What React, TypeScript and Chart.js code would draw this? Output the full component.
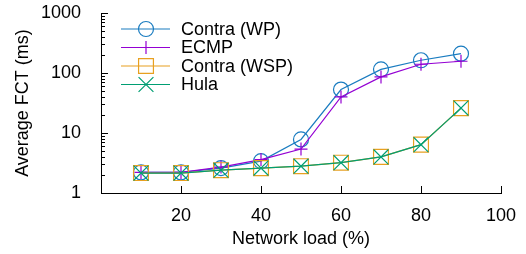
import React, { useEffect, useRef } from 'react';
import { Chart, registerables } from 'chart.js';
import { drawPoint } from 'chart.js/helpers';

Chart.register(...registerables);

const loads = [10, 20, 30, 40, 50, 60, 70, 80, 90];
const contraWP = [2.2, 2.2, 2.6, 3.4, 7.8, 53, 115, 163, 210];
const ecmp = [2.2, 2.2, 2.7, 3.6, 5.4, 40, 86, 140, 157];
const contraWSP = [2.15, 2.15, 2.4, 2.6, 2.8, 3.2, 4.0, 6.4, 26];
const hula = [2.15, 2.15, 2.4, 2.6, 2.8, 3.2, 4.0, 6.4, 26];

const seriesNames = ['Contra (WP)', 'ECMP', 'Contra (WSP)', 'Hula'];
const seriesValues = [contraWP, ecmp, contraWSP, hula];
const seriesColors = ['#1a7cc0', '#9400d3', '#e8a020', '#009e73'];
const seriesStyles = ['circle', 'cross', 'rect', 'crossRot'];
const seriesRadius = [7.5, 6.5, 10.5, 10.5];

const xTicks = [20, 40, 60, 80, 100];
const yTicks = [1, 10, 100, 1000];

const FONT = '"Liberation Sans", Arial, Helvetica, sans-serif';

const axisTicksPlugin = {
  id: 'axisTicks',
  afterDraw(chart: any) {
    const { ctx, chartArea, scales } = chart;
    const x = scales.x;
    const y = scales.y;
    ctx.save();
    ctx.strokeStyle = '#000';
    ctx.lineWidth = 1;
    ctx.beginPath();
    for (const t of xTicks) {
      const px = Math.round(x.getPixelForValue(t)) + 0.5;
      ctx.moveTo(px, chartArea.bottom);
      ctx.lineTo(px, chartArea.bottom - 7);
    }
    const left = chartArea.left;
    for (const d of [1, 10, 100]) {
      for (let m = 1; m <= 9; m++) {
        const py = Math.round(y.getPixelForValue(d * m)) + 0.5;
        const len = m === 1 ? 7 : 4;
        ctx.moveTo(left, py);
        ctx.lineTo(left + len, py);
      }
    }
    const pTop = Math.round(y.getPixelForValue(1000)) + 0.5;
    ctx.moveTo(left, pTop);
    ctx.lineTo(left + 7, pTop);
    ctx.stroke();
    ctx.restore();
  },
};

const legendPlugin = {
  id: 'customLegend',
  afterDraw(chart: any) {
    const { ctx } = chart;
    const rowY = [29, 47.5, 66, 84.5];
    ctx.save();
    seriesNames.forEach((name, i) => {
      const yy = rowY[i];
      ctx.strokeStyle = seriesColors[i];
      ctx.fillStyle = 'rgba(0,0,0,0)';
      ctx.lineWidth = 1.2;
      ctx.beginPath();
      ctx.moveTo(121, yy);
      ctx.lineTo(170, yy);
      ctx.stroke();
      drawPoint(ctx, { pointStyle: seriesStyles[i], radius: seriesRadius[i], borderWidth: 1.2, rotation: 0 } as any, 146, yy);
      ctx.fillStyle = '#000';
      ctx.font = `18px ${FONT}`;
      ctx.textAlign = 'left';
      ctx.textBaseline = 'middle';
      ctx.fillText(name, 181, yy + 1);
    });
    ctx.restore();
  },
};

export default function App() {
  const ref = useRef<HTMLCanvasElement>(null);
  useEffect(() => {
    document.body.style.margin = '0';
    const canvas = ref.current!;
    const chart = new Chart(canvas, {
      type: 'line',
      data: {
        datasets: seriesNames.map((name, i) => ({
          label: name,
          data: loads.map((l, j) => ({ x: l, y: seriesValues[i][j] })),
          borderColor: seriesColors[i],
          backgroundColor: 'rgba(0,0,0,0)',
          pointBorderColor: seriesColors[i],
          pointBackgroundColor: 'rgba(0,0,0,0)',
          pointStyle: seriesStyles[i] as any,
          pointRadius: seriesRadius[i],
          pointBorderWidth: 1.2,
          borderWidth: 1.2,
          tension: 0,
          fill: false,
          order: 3 - i,
        })),
      },
      options: {
        animation: false,
        responsive: false,
        devicePixelRatio: 1,
        color: '#000',
        layout: { padding: { left: 0, top: 13, right: 25, bottom: 0 } },
        plugins: {
          legend: { display: false },
          tooltip: { enabled: false },
        },
        scales: {
          x: {
            type: 'linear',
            min: 0,
            max: 100,
            afterBuildTicks: (s: any) => {
              s.ticks = xTicks.map((v) => ({ value: v }));
            },
            afterFit: (s: any) => {
              s.height = 61;
              s.paddingLeft = 0;
              s.paddingRight = 0;
            },
            grid: { display: false },
            border: { display: true, color: '#000', width: 1 },
            ticks: {
              color: '#000',
              padding: 4,
              maxRotation: 0,
              autoSkip: false,
              font: { family: FONT, size: 18 },
              callback: (v: any) => String(v),
            },
            title: {
              display: true,
              text: 'Network load (%)',
              color: '#000',
              font: { family: FONT, size: 18 },
              padding: { top: 0, bottom: 4 },
            },
          },
          y: {
            type: 'logarithmic',
            min: 1,
            max: 1000,
            afterBuildTicks: (s: any) => {
              s.ticks = yTicks.map((v) => ({ value: v }));
            },
            afterFit: (s: any) => {
              s.width = 101;
              s.paddingTop = 0;
              s.paddingBottom = 0;
            },
            grid: { display: false },
            border: { display: true, color: '#000', width: 1 },
            ticks: {
              color: '#000',
              padding: 12,
              autoSkip: false,
              font: { family: FONT, size: 18 },
              callback: (v: any) => String(v),
            },
            title: {
              display: true,
              text: 'Average FCT (ms)',
              color: '#000',
              font: { family: FONT, size: 18 },
              padding: { top: 12, bottom: 0 },
            },
          },
        },
      },
      plugins: [axisTicksPlugin, legendPlugin],
    });
    return () => chart.destroy();
  }, []);
  return (
    <div style={{ position: 'absolute', left: 0, top: 0, width: 526, height: 254 }}>
      <canvas ref={ref} width={526} height={254} style={{ width: 526, height: 254 }} />
    </div>
  );
}
